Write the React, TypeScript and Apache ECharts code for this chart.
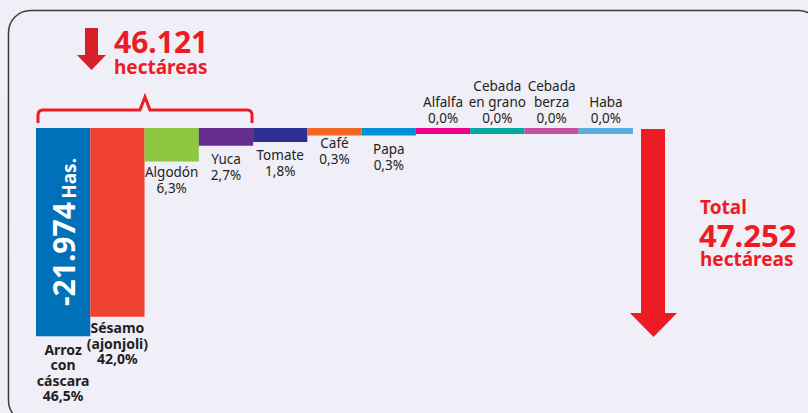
import React, { useEffect, useRef } from "react";
import * as echarts from "echarts";

const categories = [
  "Arroz\ncon\ncáscara",
  "Sésamo\n(ajonjoli)",
  "Algodón",
  "Yuca",
  "Tomate",
  "Café",
  "Papa",
  "Alfalfa",
  "Cebada\nen grano",
  "Cebada\nberza",
  "Haba",
];
const shares = [46.5, 42.0, 6.3, 2.7, 1.8, 0.3, 0.3, 0.0, 0.0, 0.0, 0.0];
const colors = [
  "#0070b9",
  "#ef4233",
  "#8dc63f",
  "#662d91",
  "#2e3192",
  "#f26522",
  "#0090d4",
  "#ec008c",
  "#00a99d",
  "#c5519c",
  "#58b0e2",
];
const labelGap = [5, 3, 3, 5, 5, 0, 6, 2, 2, 2, 2];
const STUB = 1.4; // visual stub every bar starts with
const topTitleValue = "46.121";
const totalValue = "47.252";
const unitText = "hectáreas";
const arrozHas = "-21.974";

const RED = "#ed1c24";
const FONT = "'Noto Sans', sans-serif";

const fmt = (v: number) => v.toFixed(1).replace(".", ",") + "%";

echarts.graphic.registerShape(
  "brace",
  echarts.graphic.extendPath(
    "M38 123 L38 115 Q38 110 43 110 L140 110 L145 97 L150 110 L247 110 Q252 110 252 115 L252 123",
    {}
  )
);

export default function App() {
  const ref = useRef<HTMLDivElement>(null);
  useEffect(() => {
    if (!ref.current) return;
    const chart = echarts.init(ref.current, null, { renderer: "svg" });
    const labelFor = (i: number, pos: "top" | "bottom") => ({
      show: true,
      position: pos,
      distance: labelGap[i],
      formatter: `${categories[i]}\n${fmt(shares[i])}`,
      color: "#231f20",
      fontFamily: FONT,
      fontSize: i < 2 ? 14 : 13.5,
      fontWeight: i < 2 ? "bold" : "normal",
      lineHeight: i < 2 ? 15.5 : 16,
      align: "center",
    });
    const redText = (text: string, x: number, y: number, size: number) => ({
      type: "text",
      z: 100,
      style: {
        text,
        x,
        y,
        font: `bold ${size}px ${FONT}`,
        lineHeight: Math.round(size * 0.8),
        fill: RED,
        align: "left",
        verticalAlign: "middle",
      },
    });
    chart.setOption({
      animation: false,
      backgroundColor: "#f0eef7",
      grid: { left: 36, width: 597, top: 128, height: 261 },
      xAxis: {
        type: "category",
        data: categories,
        show: false,
      },
      yAxis: {
        type: "value",
        inverse: true,
        min: 0,
        max: 60,
        show: false,
      },
      series: [
        {
          type: "bar",
          stack: "s",
          barCategoryGap: 0,
          data: shares.map((v, i) => ({
            value: STUB,
            itemStyle: { color: colors[i] },
            label: v === 0 ? labelFor(i, "top") : { show: false },
          })),
        },
        {
          type: "bar",
          stack: "s",
          barCategoryGap: 0,
          data: shares.map((v, i) => ({
            value: v,
            itemStyle: { color: colors[i] },
            label: v !== 0 ? labelFor(i, "bottom") : { show: false },
          })),
        },
      ],
      graphic: [
        {
          type: "rect",
          z: 100,
          shape: { x: 8.5, y: 10.5, width: 812, height: 412, r: 22 },
          style: { fill: "none", stroke: "#3c3c3c", lineWidth: 1.5 },
          silent: true,
        },
        {
          type: "polygon",
          z: 100,
          shape: {
            points: [
              [85, 28],
              [98, 28],
              [98, 55],
              [106, 55],
              [91.5, 70],
              [77, 55],
              [85, 55],
            ],
          },
          style: { fill: "#d71f27" },
        },
        redText(topTitleValue, 114, 41, 30),
        redText(unitText, 114, 67, 19),
        {
          type: "brace",
          z: 100,
          x: 0,
          y: 0,
          style: { fill: "none", stroke: RED, lineWidth: 3 },
        },
        {
          type: "text",
          z: 100,
          x: 63,
          y: 232,
          rotation: Math.PI / 2,
          style: {
            text: `{a|${arrozHas}} {b|Has.}`,
            x: 0,
            y: 0,
            align: "center",
            verticalAlign: "middle",
            fill: "#ffffff",
            rich: {
              a: {
                fontFamily: FONT,
                fontWeight: "bold",
                fontSize: 30,
                lineHeight: 30,
                color: "#ffffff",
                verticalAlign: "bottom",
              },
              b: {
                fontFamily: FONT,
                fontWeight: "bold",
                fontSize: 19,
                lineHeight: 30,
                color: "#ffffff",
                verticalAlign: "bottom",
              },
            },
          },
        },
        {
          type: "polygon",
          z: 100,
          shape: {
            points: [
              [641, 129],
              [665, 129],
              [665, 313],
              [677, 313],
              [653.5, 337],
              [630, 313],
              [641, 313],
            ],
          },
          style: { fill: RED },
        },
        redText("Total", 700, 207, 19),
        redText(totalValue, 699, 235, 31),
        redText(unitText, 700, 259, 19),
      ],
    });
    return () => chart.dispose();
  }, []);
  return (
    <div
      ref={ref}
      style={{ position: "absolute", left: 0, top: 0, width: 808, height: 413 }}
    />
  );
}
